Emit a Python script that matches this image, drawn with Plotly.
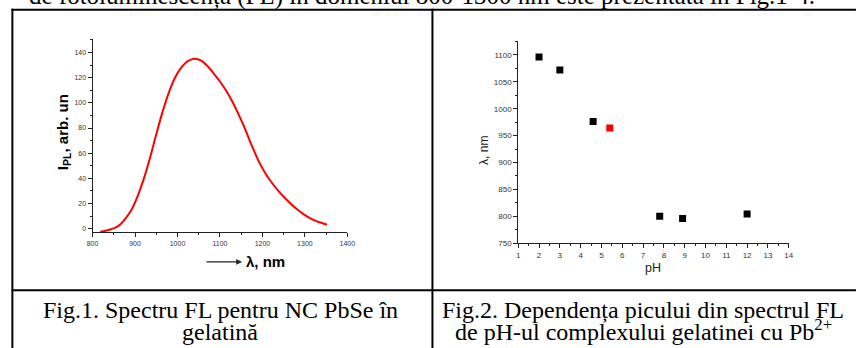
import plotly.graph_objects as go

W, H = 859, 348

# ---------------- data ----------------
wavelength_nm = [818, 825, 835, 845, 855, 865, 875, 890, 905, 920, 935, 950, 965, 980,
                 995, 1010, 1025, 1040, 1055, 1070, 1085, 1100, 1115, 1130, 1145, 1160,
                 1175, 1190, 1205, 1220, 1240, 1260, 1280, 1300, 1320, 1340, 1352]
intensity_pl = [-2.4, -2.0, -1.2, -0.2, 1.0, 3.3, 7, 14, 25, 39, 56, 75, 93, 108.5,
                120.5, 128.5, 133.3, 135, 133.7, 129.5, 123.5, 117, 109.5, 100.5, 90, 78.5,
                66, 54.5, 45, 37.5, 29, 22, 15.8, 10.8, 7, 4.5, 3.2]

ph_black = [2, 3, 4.6, 7.8, 8.9, 12]
peak_black = [1096, 1072, 976, 800, 796, 804]
ph_red = [5.4]
peak_red = [964]

top_text = "de fotoluminescența (FL) în domeniul 800-1300 nm este prezentată în Fig.1-4."
caption1 = ["Fig.1. Spectru FL pentru NC PbSe în", "gelatină"]
caption2 = ["Fig.2. Dependența picului din spectrul FL",
            "de pH-ul complexului gelatinei cu Pb<sup>2+</sup>"]

# ---------------- helpers ----------------
def px(x):
    return x / W

def py(y):
    return 1 - y / H

SANS = "Liberation Sans, Arial, sans-serif"
SERIF = "Liberation Serif, Times New Roman, serif"
AX = "#222"
TK = "#333"

fig = go.Figure()
fig.add_trace(go.Scatter(x=wavelength_nm, y=intensity_pl, mode="lines",
                         line=dict(color="#ff0000", width=2, shape="spline", smoothing=1.0),
                         xaxis="x", yaxis="y", showlegend=False))
fig.add_trace(go.Scatter(x=ph_black, y=peak_black, mode="markers",
                         marker=dict(symbol="square", size=7, color="#000000"),
                         xaxis="x2", yaxis="y2", showlegend=False))
fig.add_trace(go.Scatter(x=ph_red, y=peak_red, mode="markers",
                         marker=dict(symbol="square", size=7, color="#ff0000"),
                         xaxis="x2", yaxis="y2", showlegend=False))

def axis_common(fs):
    return dict(showline=True, linecolor=AX, linewidth=1, ticks="outside", ticklen=4,
                tickwidth=1, tickcolor=AX, showgrid=False, zeroline=False,
                tickfont=dict(family=SANS, size=fs, color=TK))

fig.update_layout(
    width=W, height=H, margin=dict(l=0, r=0, t=0, b=0),
    paper_bgcolor="white", plot_bgcolor="white",
    xaxis=dict(domain=[px(88), px(347)], range=[800, 1400], tick0=800, dtick=100,
               anchor="y", minor=dict(dtick=50, ticklen=2, ticks="outside", tickcolor=AX),
               **axis_common(7)),
    yaxis=dict(domain=[py(235.5), py(40)], range=[-2.7, 150.4], tick0=0, dtick=20,
               anchor="x", minor=dict(dtick=10, ticklen=2, ticks="outside", tickcolor=AX),
               **axis_common(7)),
    xaxis2=dict(domain=[px(520.7), px(795.7)], range=[1, 14], tick0=1, dtick=1,
                anchor="y2", minor=dict(dtick=0.5, ticklen=2, ticks="outside", tickcolor=AX),
                **axis_common(8)),
    yaxis2=dict(domain=[py(246.7), py(41.7)], range=[750, 1125.7], tick0=750, dtick=50,
                anchor="x2", minor=dict(dtick=25, ticklen=2, ticks="outside", tickcolor=AX),
                **axis_common(8)),
)

ann = []
# top cut-off text line
ann.append(dict(text=top_text, x=px(21), y=py(4 + 8.5), xref="paper", yref="paper",
                xanchor="left", yanchor="bottom", showarrow=False,
                font=dict(family=SERIF, size=25, color="black")))
# captions
CAP_OFF = 10.0
for line, base in zip(caption1, [320, 341.7]):
    ann.append(dict(text=line, x=px(218), y=py(base + CAP_OFF), xref="paper", yref="paper",
                    xanchor="center", yanchor="bottom", showarrow=False,
                    font=dict(family=SERIF, size=24, color="black")))
for line, base in zip(caption2, [320, 341.7]):
    ann.append(dict(text=line, x=px(648), y=py(base + CAP_OFF), xref="paper", yref="paper",
                    xanchor="center", yanchor="bottom", showarrow=False,
                    font=dict(family=SERIF, size=24, color="black")))
# axis titles
ann.append(dict(text="<b>I<sub>PL</sub>, arb. un</b>", x=px(58), y=py(134), xref="paper",
                yref="paper", xanchor="center", yanchor="middle", textangle=-90,
                showarrow=False, font=dict(family=SANS, size=15, color="black")))
ann.append(dict(text="<b>λ, nm</b>", x=px(242), y=py(265.5), xref="paper", yref="paper",
                xanchor="left", yanchor="middle", showarrow=False,
                font=dict(family=SANS, size=15, color="black")))
ann.append(dict(text="", x=px(240), y=py(265.7), xref="paper", yref="paper",
                ax=-37, ay=0, showarrow=True, arrowhead=2, arrowsize=0.9,
                arrowwidth=1.3, arrowcolor="#222"))
ann.append(dict(text="λ, nm", x=px(486), y=py(153), xref="paper", yref="paper",
                xanchor="center", yanchor="middle", textangle=-90, showarrow=False,
                font=dict(family=SANS, size=12, color="#222")))
ann.append(dict(text="pH", x=px(658), y=py(272.3), xref="paper", yref="paper",
                xanchor="center", yanchor="middle", showarrow=False,
                font=dict(family=SANS, size=12.5, color="#222")))
fig.update_layout(annotations=ann)

# table borders
LW = 2
shapes = [
    dict(type="line", x0=px(5.5), x1=px(W + 5), y0=py(10), y1=py(10)),
    dict(type="line", x0=px(5.5), x1=px(W + 5), y0=py(294.5), y1=py(294.5)),
    dict(type="line", x0=px(6.5), x1=px(6.5), y0=py(9), y1=py(H + 5)),
    dict(type="line", x0=px(433.5), x1=px(433.5), y0=py(9), y1=py(H + 5)),
]
for s in shapes:
    s.update(xref="paper", yref="paper", line=dict(color="black", width=LW))
fig.update_layout(shapes=shapes)

fig.write_html("out.html", config={"displayModeBar": False},
               post_script="document.body.style.margin='0';document.body.style.overflow='hidden';")
